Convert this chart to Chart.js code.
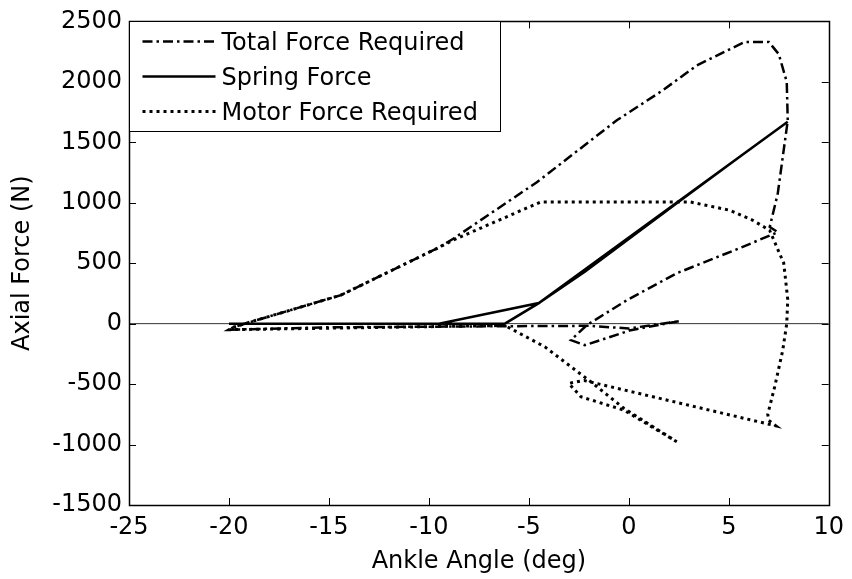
<!DOCTYPE html>
<html>
<head>
<meta charset="utf-8">
<script src="https://cdn.jsdelivr.net/npm/chart.js@4.4.1/dist/chart.umd.min.js"></script>
<style>
  body { margin: 0; background: #fff; }
</style>
</head>
<body>
<canvas id="chart" width="852" height="579"></canvas>
<script>
// values
let xTicks = [-25, -20, -15, -10, -5, 0, 5, 10];
let yTicks = [-1500, -1000, -500, 0, 500, 1000, 1500, 2000, 2500];

let totalAngle = [2.5, 0.1, -2.2, -2.9, -2.1, -0.1, 2.4, 5.7, 7.45, 7.05, 7.45, 7.95, 7.9, 7.5, 7.0, 5.8, 3.4, 1.7, -0.6, -4.6, -8.8, -9.5, -14.4, -19.0, -19.8, -20.0, -15.0, -10.0, -5.0, -2.0, 0.0, 2.5];
let totalForce = [20, -54, -178, -136, -12, 194, 417, 635, 757, 800, 1076, 1680, 2000, 2230, 2330, 2330, 2136, 1930, 1682, 1170, 700, 630, 236, 10, -30, -50, -30, -25, -20, -18, -40, 20];

let springAngle = [-20.0, -9.5, -4.5, -2.2, 0.4, 2.6, 5.7, 7.95, -4.5, -6.2, -20.0];
let springForce = [0, 0, 170, 430, 750, 1020, 1400, 1670, 170, 0, 0];

let motorAngle = [2.4, -0.25, -2.4, -3.0, -2.24, 7.35, 7.0, 6.95, 7.3, 7.7, 7.9, 7.95, 7.75, 7.04, 6.2, 5.05, 3.06, -4.4, -8.8, -9.5, -14.4, -19.0, -19.8, -20.0, -10.0, -6.2, -4.2, -1.9, -0.25, 2.4];
let motorForce = [-977, -715, -605, -494, -470, -845, -800, -750, -520, -220, 0, 200, 500, 773, 855, 938, 1007, 1007, 690, 630, 236, 10, -30, -50, -25, -15, -192, -481, -700, -977];

let zeroAngle = [-25, 10];
let zeroForce = [0, 0];

function toPoints(xs, ys){
  return xs.map((x, i) => ({x: x, y: ys[i]}));
}

const fontFamily = "'DejaVu Sans', 'Liberation Sans', Arial, sans-serif";

// box round the plot with inward ticks, like the original figure
const boxPlugin = {
  id: 'box',
  afterDatasetsDraw(chart){
    const ctx = chart.ctx, a = chart.chartArea;
    const xs = chart.scales.x, ys = chart.scales.y;
    const len = 7;
    ctx.save();
    ctx.strokeStyle = '#000';
    ctx.lineWidth = 1;
    ctx.beginPath();
    for (let v of xTicks){
      let px = Math.round(xs.getPixelForValue(v)) + 0.5;
      ctx.moveTo(px, a.bottom); ctx.lineTo(px, a.bottom - len);
      ctx.moveTo(px, a.top); ctx.lineTo(px, a.top + len);
    }
    for (let v of yTicks){
      let py = Math.round(ys.getPixelForValue(v)) + 0.5;
      ctx.moveTo(a.left, py); ctx.lineTo(a.left + len, py);
      ctx.moveTo(a.right, py); ctx.lineTo(a.right - len, py);
    }
    ctx.stroke();
    ctx.lineWidth = 1.5;
    ctx.strokeRect(Math.round(a.left) + 0.5, Math.round(a.top) + 0.5,
      Math.round(a.right - a.left), Math.round(a.bottom - a.top));
    ctx.restore();
  }
};

// legend sits inside the top left corner of the axes
const legendPlugin = {
  id: 'boxLegend',
  afterDraw(chart){
    const ctx = chart.ctx, a = chart.chartArea;
    const x0 = Math.round(a.left) + 0.5, y0 = Math.round(a.top) + 0.5;
    const w = 371, h = 110;
    ctx.save();
    ctx.fillStyle = '#fff';
    ctx.fillRect(x0, y0, w, h);
    ctx.strokeStyle = '#000';
    ctx.lineWidth = 1;
    ctx.strokeRect(x0, y0, w, h);
    const items = chart.data.datasets.filter(d => d.label);
    items.forEach((d, i) => {
      let y = y0 + 20 + i * 35;
      ctx.beginPath();
      ctx.setLineDash(d.borderDash || []);
      ctx.lineWidth = d.borderWidth;
      ctx.strokeStyle = '#000';
      ctx.moveTo(x0 + 13, y);
      ctx.lineTo(x0 + 86, y);
      ctx.stroke();
      ctx.setLineDash([]);
      ctx.fillStyle = '#000';
      ctx.font = '24px ' + fontFamily;
      ctx.textBaseline = 'middle';
      ctx.fillText(d.label, x0 + 92, y + 2);
    });
    ctx.restore();
  }
};

new Chart(document.getElementById('chart'), {
  type: 'scatter',
  data: {
    datasets: [{
      label: 'Total Force Required',
      data: toPoints(totalAngle, totalForce),
      borderColor: '#000',
      borderWidth: 2.5,
      borderDash: [10, 4, 2.5, 4]
    }, {
      label: 'Spring Force',
      data: toPoints(springAngle, springForce),
      borderColor: '#000',
      borderWidth: 2.5
    }, {
      label: 'Motor Force Required',
      data: toPoints(motorAngle, motorForce),
      borderColor: '#000',
      borderWidth: 3,
      borderDash: [3, 4]
    }, {
      label: '',
      data: toPoints(zeroAngle, zeroForce),
      borderColor: '#333',
      borderWidth: 1
    }]
  },
  options: {
    responsive: false,
    animation: false,
    showLine: true,
    elements: {
      point: { radius: 0, hoverRadius: 0 },
      line: { tension: 0, fill: false }
    },
    layout: { padding: { top: 21, right: 19, left: 0, bottom: 0 } },
    plugins: {
      legend: { display: false },
      tooltip: { enabled: false }
    },
    scales: {
      x: {
        type: 'linear',
        min: -25, max: 10,
        afterFit: s => { s.height = 74; },
        afterBuildTicks: s => { s.ticks = xTicks.map(v => ({value: v})); },
        grid: { display: false, drawTicks: false },
        border: { display: false },
        ticks: {
          color: '#000',
          padding: 8,
          maxRotation: 0,
          font: { family: fontFamily, size: 24 },
          callback: v => String(v)
        },
        title: {
          display: true,
          text: 'Ankle Angle (deg)',
          color: '#000',
          font: { family: fontFamily, size: 24 },
          padding: { top: 0, bottom: 3 }
        }
      },
      y: {
        type: 'linear',
        min: -1500, max: 2500,
        afterFit: s => { s.width = 129; },
        afterBuildTicks: s => { s.ticks = yTicks.map(v => ({value: v})); },
        grid: { display: false, drawTicks: false },
        border: { display: false },
        ticks: {
          color: '#000',
          padding: 7,
          font: { family: fontFamily, size: 24 },
          callback: v => String(v)
        },
        title: {
          display: true,
          text: 'Axial Force (N)',
          color: '#000',
          font: { family: fontFamily, size: 24 },
          padding: { top: 8, bottom: 0 }
        }
      }
    }
  },
  plugins: [boxPlugin, legendPlugin]
});
</script>
</body>
</html>
